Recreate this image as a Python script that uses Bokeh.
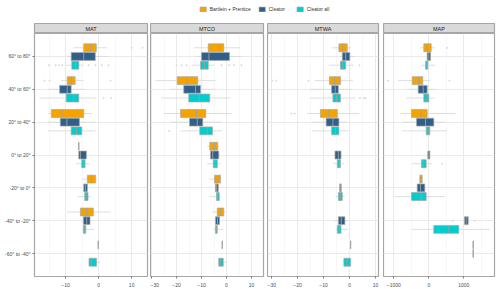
from bokeh.plotting import figure
from bokeh.models import (FactorRange, Range1d, FixedTicker, ColumnDataSource,
                          Legend, LegendItem)
from bokeh.transform import dodge
from bokeh.layouts import row, column
from bokeh.embed import file_html
from bokeh.resources import INLINE
from bokeh.core.properties import value

BANDS = ["60° to 80°", "40° to 60°", "20° to 40°", "0° to 20°",
         "-20° to 0°", "-40° to -20°", "-60° to -40°"]
SERIES = ["Bartlein + Prentice", "Cleator", "Cleator all"]
COLORS = ["#F5A300", "#30608A", "#00CDCD"]
PANELS = ["MAT", "MTCO", "MTWA", "MAP"]

# rows: [band, lower whisker, q1, median, q3, upper whisker]
MAT_BP = [["60° to 80°", -7.6, -4.5, -2.4, -0.7, 2.6],
          ["40° to 60°", -11.3, -9.5, -8.3, -7.1, -4.5],
          ["20° to 40°", -15.4, -14.3, -11.1, -4.5, -2.0],
          ["0° to 20°", -6.0, -6.0, -6.0, -6.0, -6.0],
          ["-20° to 0°", -4.9, -3.4, -2.2, -0.9, -0.5],
          ["-40° to -20°", -9.5, -5.5, -3.6, -1.6, 3.6],
          ["-60° to -40°", -0.1, -0.1, -0.1, -0.1, -0.1]]
MAT_C = [["60° to 80°", -9.5, -8.3, -4.5, -1.0, 3.0],
         ["40° to 60°", -15.4, -11.8, -9.5, -8.3, -4.2],
         ["20° to 40°", -15.4, -11.6, -9.6, -5.8, -1.0],
         ["0° to 20°", -6.3, -6.0, -5.5, -3.7, -3.5],
         ["-20° to 0°", -4.7, -4.5, -4.0, -3.4, -3.2],
         ["-40° to -20°", -5.0, -4.6, -3.6, -2.6, -2.3]]
MAT_CA = [["60° to 80°", -10.0, -8.1, -7.0, -6.0, -4.5],
          ["40° to 60°", -17.9, -9.8, -7.5, -6.0, -0.7],
          ["20° to 40°", -15.4, -8.3, -6.7, -5.1, -1.0],
          ["0° to 20°", -6.8, -5.1, -4.5, -4.1, -2.7],
          ["-20° to 0°", -6.3, -4.2, -3.8, -3.2, -2.4],
          ["-40° to -20°", -4.8, -4.6, -4.2, -3.9, -1.4],
          ["-60° to -40°", -3.0, -2.9, -2.3, -0.6, 0.5]]
# outliers: [band, series index, value]
MAT_OUT = [["60° to 80°", 0, 10.0], ["60° to 80°", 0, 13.3],
           ["40° to 60°", 0, -16.4], ["40° to 60°", 0, -14.8], ["40° to 60°", 0, 3.6],
           ["60° to 80°", 2, -15.0], ["60° to 80°", 2, -13.0], ["60° to 80°", 2, -12.0],
           ["60° to 80°", 2, -11.0], ["60° to 80°", 2, -3.0], ["60° to 80°", 2, -1.0],
           ["60° to 80°", 2, 1.0], ["60° to 80°", 2, 3.0],
           ["40° to 60°", 2, 1.5], ["40° to 60°", 2, 3.8]]

MTCO_BP = [["60° to 80°", -13.1, -7.3, -2.8, -1.1, 5.6],
           ["40° to 60°", -28.4, -19.7, -15.7, -11.5, -4.4],
           ["20° to 40°", -25.0, -18.4, -12.0, -8.3, 2.3],
           ["0° to 20°", -7.7, -6.7, -4.8, -3.5, -2.8],
           ["-20° to 0°", -7.1, -4.8, -3.5, -2.4, -2.1],
           ["-40° to -20°", -5.7, -3.7, -2.5, -1.1, -0.4],
           ["-60° to -40°", -1.7, -1.7, -1.7, -1.7, -1.7]]
MTCO_C = [["60° to 80°", -12.0, -10.0, -7.0, 1.2, 6.0],
          ["40° to 60°", -22.7, -17.1, -12.4, -10.4, -4.4],
          ["20° to 40°", -22.7, -14.8, -11.7, -9.5, -1.7],
          ["0° to 20°", -7.0, -6.4, -5.5, -3.1, -2.6],
          ["-20° to 0°", -4.6, -4.4, -4.0, -3.3, -3.1],
          ["-40° to -20°", -4.8, -4.4, -3.6, -2.8, -2.5]]
MTCO_CA = [["60° to 80°", -14.0, -10.4, -8.8, -7.3, -5.0],
           ["40° to 60°", -26.1, -15.1, -10.9, -6.7, 1.6],
           ["20° to 40°", -18.4, -10.7, -7.7, -5.6, -1.7],
           ["0° to 20°", -7.7, -5.3, -4.5, -3.7, -2.4],
           ["-20° to 0°", -6.7, -4.0, -3.5, -2.9, -2.1],
           ["-40° to -20°", -5.3, -4.4, -4.0, -3.7, -1.3],
           ["-60° to -40°", -3.5, -3.1, -2.4, -1.3, 0.0]]
MTCO_OUT = [["60° to 80°", 2, -20.0], ["60° to 80°", 2, -18.0], ["60° to 80°", 2, -16.0],
            ["60° to 80°", 2, -2.0], ["60° to 80°", 2, 1.0], ["60° to 80°", 2, 3.0],
            ["60° to 80°", 2, 6.0], ["20° to 40°", 2, -23.0]]

MTWA_BP = [["60° to 80°", -6.7, -4.1, -2.6, -0.9, 0.4],
           ["40° to 60°", -13.3, -7.7, -5.7, -3.5, 1.3],
           ["20° to 40°", -16.3, -11.2, -8.0, -4.7, 3.8],
           ["-60° to -40°", 0.4, 0.4, 0.4, 0.4, 0.4]]
MTWA_C = [["60° to 80°", -3.5, -2.8, -1.5, 0.1, 1.7],
          ["40° to 60°", -15.0, -6.9, -5.5, -4.3, 1.0],
          ["20° to 40°", -14.3, -9.0, -6.4, -4.1, -0.9],
          ["0° to 20°", -6.0, -5.6, -4.3, -3.3, -3.0],
          ["-20° to 0°", -4.0, -3.8, -3.5, -3.2, -3.0],
          ["-40° to -20°", -6.0, -4.3, -3.2, -1.8, -0.5]]
MTWA_CA = [["60° to 80°", -8.0, -3.5, -2.6, -1.5, 1.7],
           ["40° to 60°", -15.0, -6.4, -5.0, -3.5, 2.3],
           ["20° to 40°", -14.3, -6.9, -5.4, -4.1, -0.3],
           ["0° to 20°", -6.4, -4.7, -4.0, -3.5, -2.2],
           ["-20° to 0°", -5.4, -4.3, -3.6, -2.8, -1.8],
           ["-40° to -20°", -5.4, -4.7, -4.0, -3.3, -0.5],
           ["-60° to -40°", -2.5, -2.2, -1.0, 0.4, 0.4]]
MTWA_OUT = [["40° to 60°", 0, -29.7], ["40° to 60°", 0, -28.2], ["40° to 60°", 0, -15.8],
            ["20° to 40°", 0, -22.3], ["20° to 40°", 0, -21.0],
            ["60° to 80°", 2, 3.8], ["40° to 60°", 2, 4.0], ["40° to 60°", 2, 5.5],
            ["40° to 60°", 2, 6.2]]

MAP_BP = [["60° to 80°", -237, -143, -46, 69, 171],
          ["40° to 60°", -874, -474, -286, -171, 49],
          ["20° to 40°", -809, -494, -217, -46, 763],
          ["-20° to 0°", -270, -257, -220, -189, -180],
          ["-60° to -40°", 1269, 1269, 1269, 1269, 1269]]
MAP_C = [["60° to 80°", -60, -46, 0, 49, 60],
         ["40° to 60°", -617, -303, -160, -46, 191],
         ["20° to 40°", -760, -351, -94, 143, 477],
         ["0° to 20°", -40, -29, 0, 29, 40],
         ["-20° to 0°", -350, -331, -240, -114, -100],
         ["-40° to -20°", 971, 1020, 1069, 1126, 1171],
         ["-60° to -40°", 1269, 1269, 1269, 1269, 1269]]
MAP_CA = [["60° to 80°", -237, -94, -50, -29, 191],
          ["40° to 60°", -646, -143, -74, 0, 171],
          ["20° to 40°", -760, -74, -17, 29, 526],
          ["0° to 20°", -474, -209, -160, -74, 97],
          ["-20° to 0°", -971, -494, -217, -74, 457],
          ["-40° to -20°", -494, 143, 571, 857, 1743]]
MAP_OUT = [["60° to 80°", 0, 526], ["40° to 60°", 0, -1160], ["40° to 60°", 0, 591],
           ["-40° to -20°", 1, 686], ["-40° to -20°", 1, 1314], ["0° to 20°", 2, 383]]

X_RANGES = {"MAT": (-19.4, 14.8), "MTCO": (-30.4, 14.8),
            "MTWA": (-31.5, 11.1), "MAP": (-1294, 1877)}
X_TICKS = {"MAT": [-10, 0, 10], "MTCO": [-30, -20, -10, 0, 10],
           "MTWA": [-30, -20, -10, 0, 10], "MAP": [-1000, 0, 1000]}
X_MINOR = {"MAT": [-15, -5, 5], "MTCO": [-25, -15, -5, 5],
           "MTWA": [-25, -15, -5, 5], "MAP": [-500, 500, 1500]}
DATA = {"MAT": (MAT_BP, MAT_C, MAT_CA, MAT_OUT),
        "MTCO": (MTCO_BP, MTCO_C, MTCO_CA, MTCO_OUT),
        "MTWA": (MTWA_BP, MTWA_C, MTWA_CA, MTWA_OUT),
        "MAP": (MAP_BP, MAP_C, MAP_CA, MAP_OUT)}

OFFS = [0.265, 0.0, -0.265]
BOX_H = 0.24
FONT = "Liberation Sans"
OUTLINE = "#A8A8A8"
WHISK = "#DADADA"
BORDER = "#A6A6A6"

FW = [113, 113, 111, 111]
RIGHT = [3, 4, 5, 3]
LEFT0 = 34


def make_panel(i, name):
    bp, c, ca, outs = DATA[name]
    ml = LEFT0 if i == 0 else 0
    mr = RIGHT[i]
    yr = FactorRange(factors=BANDS[::-1], range_padding=0.2,
                     range_padding_units="absolute")
    p = figure(y_range=yr, x_range=Range1d(*X_RANGES[name]),
               frame_width=FW[i], frame_height=243, output_backend="svg",
               toolbar_location=None, min_border_left=ml, min_border_right=mr,
               min_border_top=0, min_border_bottom=0)
    p.outline_line_color = BORDER
    p.outline_line_width = 1.2
    for si, rows in enumerate([bp, c, ca]):
        src = ColumnDataSource(dict(band=[r[0] for r in rows],
                                    lo=[r[1] for r in rows], q1=[r[2] for r in rows],
                                    med=[r[3] for r in rows], q3=[r[4] for r in rows],
                                    hi=[r[5] for r in rows]))
        off = OFFS[si]
        yy = dodge("band", off, range=yr)
        p.segment(x0="lo", x1="hi", y0=yy, y1=yy, line_color=WHISK,
                  line_width=0.9, source=src)
        p.hbar(y=yy, left="q1", right="q3", height=BOX_H, fill_color=COLORS[si],
               line_color=OUTLINE, line_width=0.7, source=src)
        p.segment(x0="med", x1="med", y0=dodge("band", off - BOX_H / 2, range=yr),
                  y1=dodge("band", off + BOX_H / 2, range=yr),
                  line_color="#A0A0A0", line_width=0.9, source=src)
    for si in range(3):
        pts = [o for o in outs if o[1] == si]
        if pts:
            osrc = ColumnDataSource(dict(band=[o[0] for o in pts], v=[o[2] for o in pts]))
            p.scatter(x="v", y=dodge("band", OFFS[si], range=yr), size=1.2,
                      color="#DDDDDD", source=osrc)
    p.xaxis.ticker = FixedTicker(ticks=X_TICKS[name], minor_ticks=X_MINOR[name])
    p.xgrid.grid_line_color = "#E8E8E8"
    p.xgrid.grid_line_width = 0.9
    p.xgrid.minor_grid_line_color = "#F2F2F2"
    p.xgrid.minor_grid_line_width = 0.6
    p.ygrid.grid_line_color = "#E8E8E8"
    p.ygrid.grid_line_width = 0.9
    for ax in p.axis:
        ax.axis_line_color = None
        ax.major_tick_line_color = "#444444"
        ax.major_tick_line_width = 0.7
        ax.major_tick_out = 2
        ax.major_tick_in = 0
        ax.minor_tick_line_color = None
        ax.major_label_text_font_size = "5px"
        ax.major_label_text_font = FONT
        ax.major_label_text_color = "#4D4D4D"
        ax.major_label_standoff = 2
    if i > 0:
        p.yaxis.visible = False

    s = figure(x_range=FactorRange(factors=[name]), y_range=Range1d(0, 1),
               frame_width=FW[i], frame_height=10, output_backend="svg",
               toolbar_location=None, min_border_left=ml, min_border_right=mr,
               min_border_top=6, min_border_bottom=0)
    s.axis.visible = False
    s.grid.visible = False
    s.background_fill_color = "#D9D9D9"
    s.outline_line_color = BORDER
    s.outline_line_width = 1.2
    s.text(x=[name], y=[0.5], text=[name], text_align="center",
           text_baseline="middle", text_font_size="5.5px",
           text_color="#1A1A1A", text_font=value(FONT))
    return column(s, p, spacing=0)


cols = [make_panel(i, n) for i, n in enumerate(PANELS)]

lg = figure(x_range=Range1d(0, 1), y_range=Range1d(0, 1),
            frame_width=sum(FW) + sum(RIGHT[:3]), frame_height=17, output_backend="svg",
            toolbar_location=None, min_border_left=LEFT0, min_border_right=RIGHT[3],
            min_border_top=0, min_border_bottom=0)
lg.axis.visible = False
lg.grid.visible = False
lg.outline_line_color = None
items = []
for si, name in enumerate(SERIES):
    # legend proxy: a bar with no drawable position, only used for its legend key
    r = lg.hbar(y=[float("nan")], left=[float("nan")], right=[float("nan")],
                height=0.5, fill_color=COLORS[si], line_color=OUTLINE, line_width=0.7)
    items.append(LegendItem(label=name, renderers=[r]))
legend = Legend(items=items, orientation="horizontal", location="center",
                glyph_width=8, glyph_height=6, label_height=6, label_standoff=3,
                spacing=7, padding=0, margin=0, border_line_color=None,
                background_fill_alpha=0, label_text_font_size="5px",
                label_text_font=FONT, label_text_color="#333333")
lg.add_layout(legend, "center")

layout = column(lg, row(*cols, spacing=0), spacing=0)

open("out.html", "w").write(file_html(layout, INLINE))
